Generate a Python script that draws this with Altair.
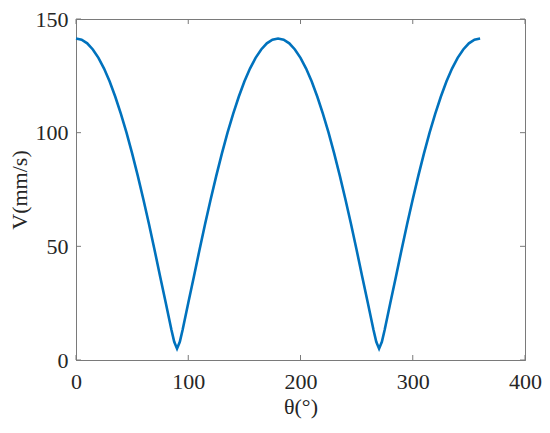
import altair as alt
import pandas as pd

theta = [0, 5, 10, 15, 20, 25, 30, 35, 40, 45, 50, 55, 60, 65, 70, 75, 80, 85, 87.5, 90,
         92.5, 95, 100, 105, 110, 115, 120, 125, 130, 135, 140, 145, 150, 155, 160, 165, 170, 175, 180,
         185, 190, 195, 200, 205, 210, 215, 220, 225, 230, 235, 240, 245, 250, 255, 260, 265, 267.5, 270,
         272.5, 275, 280, 285, 290, 295, 300, 305, 310, 315, 320, 325, 330, 335, 340, 345, 350, 355, 360]
velocity = [141.4, 140.9, 139.3, 136.6, 132.9, 128.2, 122.5, 115.8, 108.3, 100.0, 90.9, 81.1, 70.7, 59.8, 48.4, 36.6, 25.1, 13.3, 8.0, 5.0,
            8.0, 13.3, 25.1, 36.6, 48.4, 59.8, 70.7, 81.1, 90.9, 100.0, 108.3, 115.8, 122.5, 128.2, 132.9, 136.6, 139.3, 140.9, 141.4,
            140.9, 139.3, 136.6, 132.9, 128.2, 122.5, 115.8, 108.3, 100.0, 90.9, 81.1, 70.7, 59.8, 48.4, 36.6, 25.1, 13.3, 8.0, 5.0,
            8.0, 13.3, 25.1, 36.6, 48.4, 59.8, 70.7, 81.1, 90.9, 100.0, 108.3, 115.8, 122.5, 128.2, 132.9, 136.6, 139.3, 140.9, 141.4]
x_ticks = [0, 100, 200, 300, 400]
y_ticks = [0, 50, 100, 150]

W, H = 449, 341
AX = "#7a7a7a"
FONT = "'Liberation Serif', 'Times New Roman', serif"

df = pd.DataFrame({"theta": theta, "v": velocity})
xt = pd.DataFrame({"t": x_ticks})
yt = pd.DataFrame({"t": y_ticks})

xscale = alt.Scale(domain=[0, 400], nice=False, zero=False)
yscale = alt.Scale(domain=[0, 150], nice=False)

line = alt.Chart(df).mark_line(color="#0072BD", strokeWidth=2.6).encode(
    x=alt.X("theta:Q", scale=xscale,
            axis=alt.Axis(title="θ(°)", values=x_ticks, ticks=False, grid=False,
                          labelFlush=False, labelOverlap=False,
                          labelPadding=11, titlePadding=4, domainColor=AX)),
    y=alt.Y("v:Q", scale=yscale,
            axis=alt.Axis(title="V(mm/s)", values=y_ticks, ticks=False, grid=False,
                          labelFlush=False, labelOverlap=False,
                          labelPadding=8, titlePadding=4, domainColor=AX)),
)

tick_style = dict(color=AX, strokeWidth=1)
bx = alt.Chart(xt).mark_rule(**tick_style).encode(
    x=alt.X("t:Q", scale=xscale), y=alt.value(H), y2=alt.value(H - 5))
tx = alt.Chart(xt).mark_rule(**tick_style).encode(
    x=alt.X("t:Q", scale=xscale), y=alt.value(0), y2=alt.value(5))
ly = alt.Chart(yt).mark_rule(**tick_style).encode(
    y=alt.Y("t:Q", scale=yscale), x=alt.value(0), x2=alt.value(5))
ry = alt.Chart(yt).mark_rule(**tick_style).encode(
    y=alt.Y("t:Q", scale=yscale), x=alt.value(W), x2=alt.value(W - 5))

chart = alt.layer(line, bx, tx, ly, ry).properties(
    width=W, height=H,
    autosize=alt.AutoSizeParams(type="none"),
    padding={"left": 68, "top": 11, "right": 17, "bottom": 60},
).configure_view(stroke=AX, strokeWidth=1).configure_axis(
    labelFont=FONT, titleFont=FONT, labelFontSize=22, titleFontSize=22,
    labelColor="#262626", titleColor="#262626", titleFontWeight="normal",
)

chart.save("out.html", embed_options={"renderer": "svg", "actions": False})
